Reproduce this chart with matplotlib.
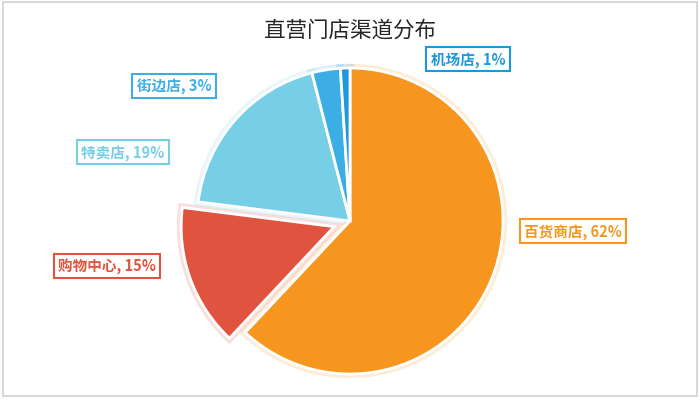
"""Pie chart: distribution of directly-operated store channels."""

import matplotlib.pyplot as plt
import matplotlib as mpl

mpl.rcParams["font.family"] = ["Noto Sans CJK SC", "DejaVu Sans"]

# --- data ---
channels = ["百货商店", "购物中心", "特卖店", "街边店", "机场店"]
shares = [62, 15, 19, 3, 1]
colors = ["#F7961E", "#E0533F", "#76CEE7", "#3BAFE5", "#1C99DE"]
explode = [0, 0.11, 0, 0, 0]   # fraction of radius

# label box centres in pixel coords (x from left, y from top)
label_pos = [(573, 232), (107, 267), (123, 153), (174, 87), (468, 60)]

W, H = 700, 410
CX, CY, R = 350, 222, 153

fig = plt.figure(figsize=(W / 100, H / 100), dpi=100, facecolor="white")
ax = fig.add_axes([0, 0, 1, 1])

# matplotlib's explode offset is in data units, so scale by the radius
offsets = [e * R for e in explode]
pie_kw = dict(colors=colors, explode=offsets, startangle=90, counterclock=False,
              center=(CX, H - CY), radius=R, frame=True)

# soft coloured glow under the wedges
glow, _ = ax.pie(shares, wedgeprops=dict(linewidth=6, alpha=0.18), **pie_kw)
for w, c in zip(glow, colors):
    w.set_edgecolor(c)

wedges, _ = ax.pie(shares, wedgeprops=dict(edgecolor="white", linewidth=2), **pie_kw)

ax.set_xlim(0, W)
ax.set_ylim(0, H)
ax.set_aspect("equal")
ax.axis("off")

for name, val, col, (x, y) in zip(channels, shares, colors, label_pos):
    ax.text(x, H - y, f"{name}, {val}%", ha="center", va="center",
            fontsize=10.5, fontweight="bold", color=col,
            bbox=dict(boxstyle="square,pad=0.3", facecolor="white",
                      edgecolor=col, linewidth=1.5))

ax.text(W / 2, H - 31, "直营门店渠道分布", ha="center", va="center",
        fontsize=15.5, color="#262626")

# light grey frame around the chart area
frame = plt.Rectangle((3, H - 397), 694, 394, fill=False,
                      edgecolor="#D9D9D9", linewidth=1.5)
ax.add_patch(frame)

fig.savefig("out.png", dpi=100, facecolor="white")
